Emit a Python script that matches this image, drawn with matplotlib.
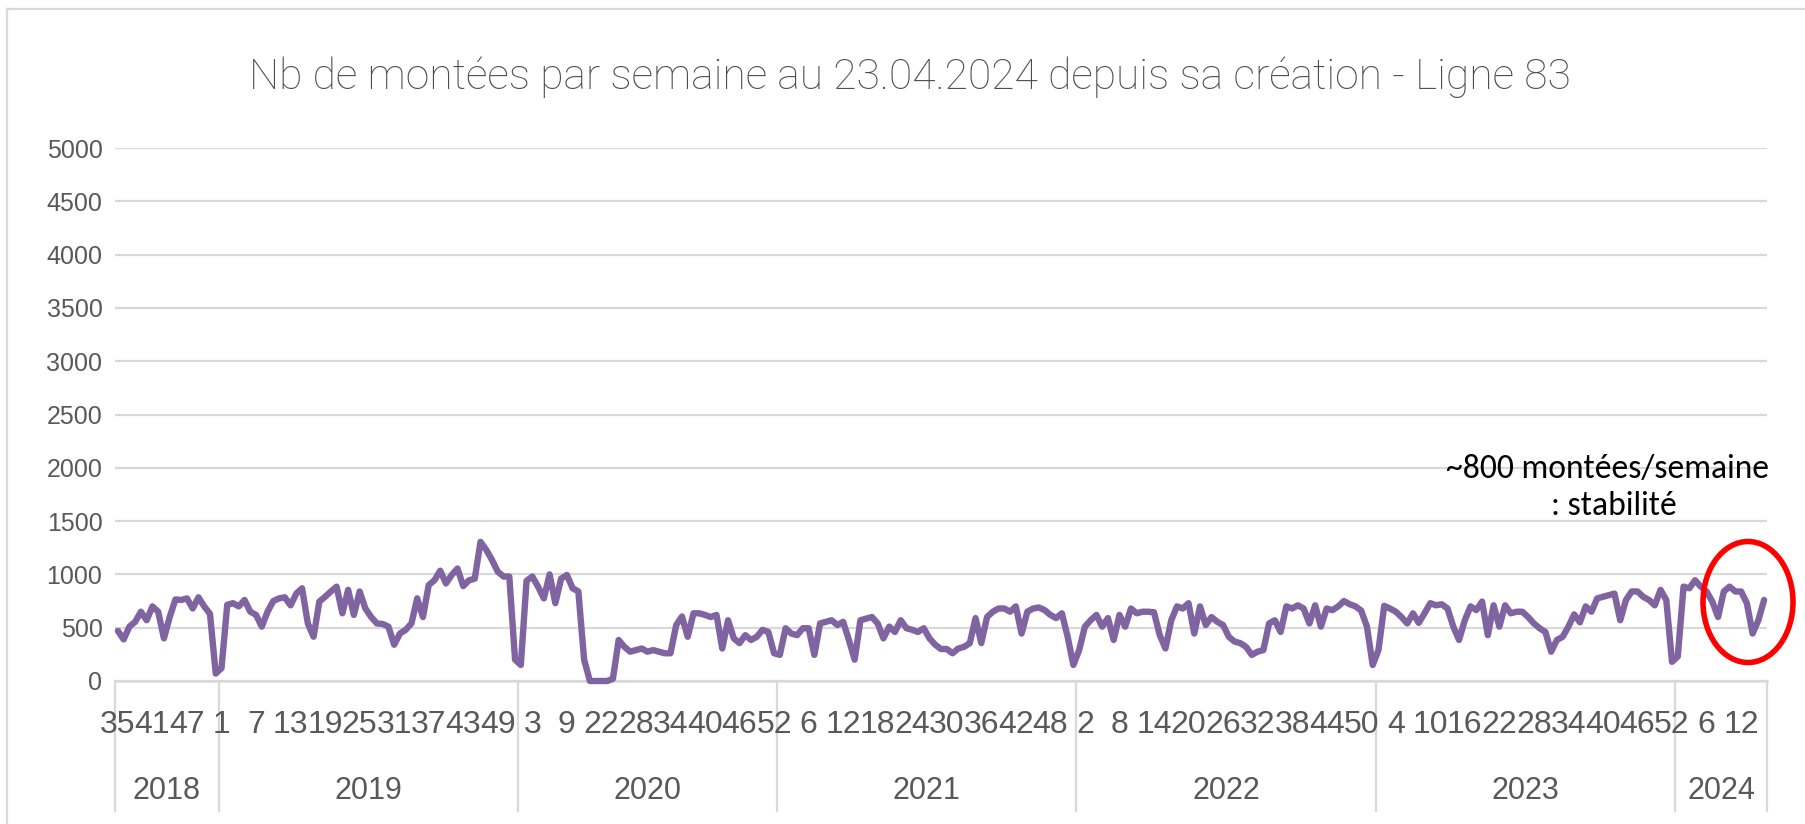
import matplotlib
matplotlib.use("Agg")
import matplotlib.pyplot as plt
import matplotlib.transforms as mtransforms
from matplotlib.patches import Ellipse
from matplotlib.lines import Line2D
from matplotlib import font_manager as fm
import numpy as np

# ---------------- data ----------------
title = "Nb de montées par semaine au 23.04.2024 depuis sa création - Ligne 83"
annotation_lines = ["~800 montées/semaine", ": stabilité"]
years = ["2018", "2019", "2020", "2021", "2022", "2023", "2024"]

weeks_2018 = list(range(35, 53))
weeks_2019 = list(range(1, 53))
weeks_2020 = list(range(1, 13)) + list(range(20, 53))
weeks_2021 = list(range(1, 53))
weeks_2022 = list(range(1, 53))
weeks_2023 = list(range(1, 53))
weeks_2024 = list(range(1, 17))

montees_2018 = [470, 390, 510, 555, 650, 570, 700, 650, 400, 600, 765, 760, 775, 680,
                785, 700, 630, 70]
montees_2019 = [120, 715, 730, 700, 760, 650, 620, 510, 650, 750, 775, 785, 710, 820,
                870, 540, 415, 745, 790, 840, 885, 635, 855, 620, 840, 680, 600, 540,
                535, 510, 340, 445, 480, 540, 775, 600, 900, 945, 1035, 915, 995, 1055,
                890, 945, 960, 1305, 1230, 1135, 1025, 980, 980, 200]
montees_2020 = [150, 940, 980, 885, 775, 1000, 730, 960, 995, 870, 840, 200, 0, 0,
                0, 0, 20, 385, 320, 275, 290, 305, 275, 290, 275, 260, 260, 525,
                605, 415, 635, 635, 620, 600, 620, 305, 570, 400, 355, 430, 385, 415,
                480, 460, 260]
montees_2021 = [245, 495, 445, 430, 495, 495, 245, 540, 555, 570, 525, 555, 385, 200,
                570, 585, 600, 540, 400, 510, 460, 570, 495, 480, 460, 495, 400, 340,
                300, 300, 260, 305, 320, 355, 590, 355, 600, 650, 680, 680, 650, 700,
                445, 650, 680, 690, 665, 620, 590, 635, 415, 150]
montees_2022 = [290, 510, 570, 620, 510, 590, 385, 620, 510, 680, 635, 650, 650, 645,
                430, 305, 570, 700, 680, 730, 445, 700, 525, 600, 555, 525, 415, 370,
                355, 320, 245, 275, 290, 540, 570, 460, 700, 680, 710, 680, 540, 710,
                510, 680, 665, 700, 750, 720, 700, 660, 510, 150]
montees_2023 = [290, 705, 680, 650, 600, 540, 635, 545, 635, 730, 710, 720, 680, 510,
                385, 570, 700, 665, 745, 430, 710, 510, 710, 635, 650, 650, 600, 540,
                495, 460, 275, 385, 415, 510, 625, 550, 700, 650, 775, 790, 805, 820,
                570, 760, 840, 840, 790, 760, 710, 855, 760, 180]
montees_2024 = [230, 885, 870, 945, 885, 840, 745, 600, 840, 885, 840, 840, 730, 445,
                570, 760]

week_groups = [weeks_2018, weeks_2019, weeks_2020, weeks_2021, weeks_2022, weeks_2023, weeks_2024]
value_groups = [montees_2018, montees_2019, montees_2020, montees_2021, montees_2022,
                montees_2023, montees_2024]

weeks = [w for g in week_groups for w in g]
values = [v for g in value_groups for v in g]
n = len(values)

# ---------------- fonts ----------------
def has_font(name):
    try:
        fm.findfont(fm.FontProperties(family=name), fallback_to_default=False)
        return True
    except Exception:
        return False

AXF = "Liberation Sans Narrow" if has_font("Liberation Sans Narrow") else "Liberation Sans"
TITLEF = "Roboto" if has_font("Roboto") else "Liberation Sans"
REG = "Carlito" if has_font("Carlito") else "Lato"
plt.rcParams["font.family"] = [AXF, "DejaVu Sans"]

GRAY_TXT = "#595959"
GRID = "#D9D9D9"
PURPLE = "#8064A2"

W, H = 1806, 824
fig = plt.figure(figsize=(W / 100, H / 100), dpi=100)
fig.patch.set_facecolor("white")

def fx(px):
    return px / W

def fy(py):
    return 1 - py / H

left, right, top, bottom = 115, 1767, 148, 681
ax = fig.add_axes([fx(left), fy(bottom), (right - left) / W, (bottom - top) / H])

x = np.arange(n) + 0.5
ax.plot(x, values, color=PURPLE, lw=4.6, solid_joinstyle="round",
        solid_capstyle="round", clip_on=False, zorder=3)
ax.set_xlim(0, n)
ax.set_ylim(0, 5000)
ax.set_yticks(range(0, 5001, 500))
ax.grid(axis="y", color=GRID, lw=1.6, zorder=0)
ax.set_axisbelow(True)
for s in ["left", "right", "top"]:
    ax.spines[s].set_visible(False)
ax.spines["bottom"].set_color(GRID)
ax.spines["bottom"].set_linewidth(1.8)
ax.set_xticks([])
ax.tick_params(axis="y", length=0, pad=9, labelsize=18, labelcolor=GRAY_TXT)

trans = mtransforms.blended_transform_factory(ax.transData, fig.transFigure)

# week labels (every 6th category)
for idx in range(0, n, 6):
    ax.text(x[idx], fy(725), str(weeks[idx]), transform=trans, ha="center", va="center",
            fontsize=23, color=GRAY_TXT, clip_on=False)

# year labels & dividers
bounds = [0]
for g in week_groups:
    bounds.append(bounds[-1] + len(g))
for i, yr in enumerate(years):
    c = (bounds[i] + bounds[i + 1]) / 2
    ax.text(c, fy(791), yr, transform=trans, ha="center", va="center",
            fontsize=22, color=GRAY_TXT, clip_on=False)
for b in bounds:
    ax.add_line(Line2D([b, b], [fy(681), fy(811)], transform=trans, color=GRID,
                       lw=1.6, clip_on=False))

# title (fit to measured width)
renderer = fig.canvas.get_renderer()

def fit(t, target_w):
    w = t.get_window_extent(renderer).width
    t.set_fontsize(t.get_fontsize() * target_w / w)

t = fig.text(fx(910), fy(77), title, ha="center", va="center", color="#4d4d4d",
             fontsize=30, fontfamily=[TITLEF, "DejaVu Sans"], fontweight="light")
fit(t, 1323)

a1 = fig.text(fx(1608), fy(478), annotation_lines[0], ha="center", va="baseline",
              color="black", fontsize=20, fontfamily=[REG, "DejaVu Sans"])
fit(a1, 324)
a2 = fig.text(fx(1614), fy(515), annotation_lines[1], ha="center", va="baseline",
              color="black", fontsize=a1.get_fontsize(), fontfamily=[REG, "DejaVu Sans"])

fig.add_artist(Ellipse((fx(1748), fy(602)), width=90 / W, height=121 / H,
                       transform=fig.transFigure, fill=False, edgecolor="#FF0000", lw=4.0))

# chart area border (left and top visible)
fig.add_artist(Line2D([fx(7), fx(7)], [fy(9), 0], transform=fig.transFigure,
                      color=GRID, lw=1.6))
fig.add_artist(Line2D([fx(7), 1], [fy(9), fy(9)], transform=fig.transFigure,
                      color=GRID, lw=1.6))

fig.savefig("out.png", dpi=100, facecolor="white")
